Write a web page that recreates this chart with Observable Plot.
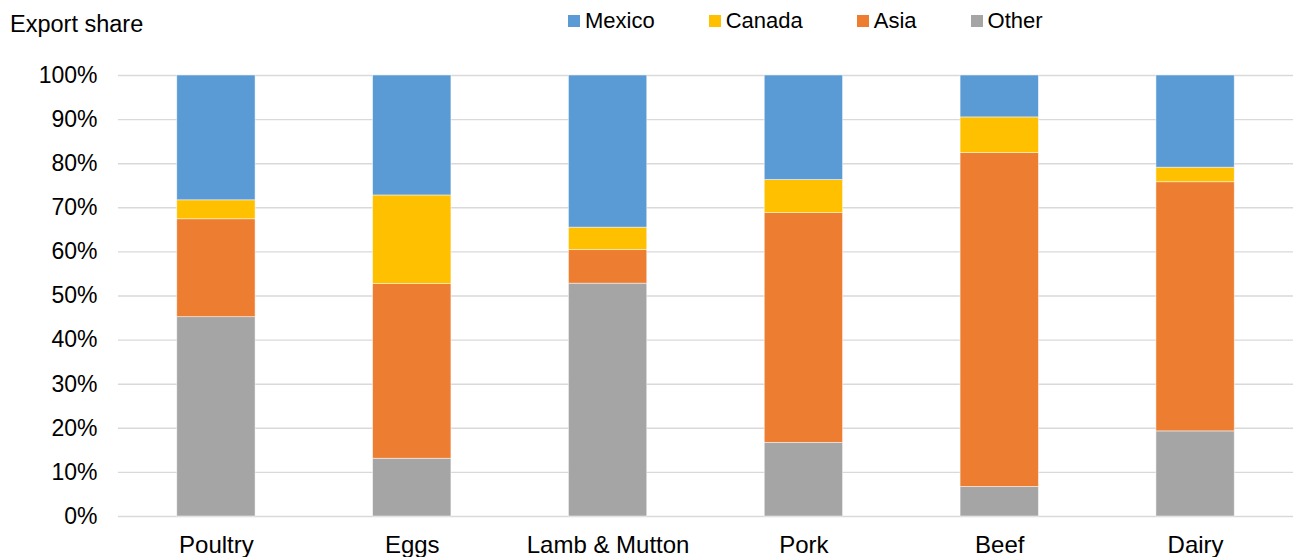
<!DOCTYPE html>
<html>
<head>
<meta charset="utf-8">
<script src="https://cdn.jsdelivr.net/npm/d3@7"></script>
<script src="https://cdn.jsdelivr.net/npm/@observablehq/plot@0.6"></script>
<style>
  html, body { margin: 0; padding: 0; background: #fff; }
  body { width: 1293px; height: 557px; overflow: hidden; font-family: "Liberation Sans", Arial, sans-serif; }
  #header { position: relative; height: 50px; }
  #title { position: absolute; left: 10px; top: 12px; font-size: 23.5px; line-height: 24px; color: #000; }
  #legend { position: absolute; left: 568px; top: 10px; display: flex; gap: 54px; font-size: 22px; line-height: 22px; color: #000; }
  .item { display: flex; align-items: center; gap: 5px; }
  .sw { width: 12px; height: 12px; display: inline-block; }
  #chart svg { display: block; }
</style>
</head>
<body>
<div id="header">
  <div id="title">Export share</div>
  <div id="legend"></div>
</div>
<div id="chart"></div>
<script>
const categories = ["Poultry", "Eggs", "Lamb & Mutton", "Pork", "Beef", "Dairy"];
const seriesNames = ["Other", "Asia", "Canada", "Mexico"]; // stacking order, bottom to top
const legendOrder = ["Mexico", "Canada", "Asia", "Other"];
const colors = {Mexico: "#5B9BD5", Canada: "#FFC000", Asia: "#ED7D31", Other: "#A5A5A5"};
const other  = [45.2, 13.1, 52.8, 16.7,  6.7, 19.3];
const asia   = [22.2, 39.6,  7.6, 52.1, 75.7, 56.5];
const canada = [ 4.3, 20.1,  5.1,  7.5,  8.1,  3.3];
const mexico = [28.3, 27.2, 34.5, 23.7,  9.5, 20.9];
const yTicks = [0, 10, 20, 30, 40, 50, 60, 70, 80, 90, 100];

const seriesValues = {Other: other, Asia: asia, Canada: canada, Mexico: mexico};
const data = [];
for (const s of seriesNames) {
  categories.forEach((c, i) => data.push({category: c, series: s, value: seriesValues[s][i]}));
}

const legend = document.getElementById("legend");
for (const s of legendOrder) {
  const it = document.createElement("div");
  it.className = "item";
  it.innerHTML = `<span class="sw" style="background:${colors[s]}"></span><span>${s}</span>`;
  legend.appendChild(it);
}

const chart = Plot.plot({
  width: 1293,
  height: 507,
  marginTop: 25,
  marginBottom: 41,
  marginLeft: 118,
  marginRight: 0,
  style: {fontFamily: "Liberation Sans, Arial, sans-serif", fontSize: "23px", color: "#000", background: "#fff"},
  x: {domain: categories, paddingInner: 0.6, paddingOuter: 0.3, round: false, label: null},
  y: {domain: [0, 100], label: null},
  color: {domain: seriesNames, range: seriesNames.map(s => colors[s])},
  marks: [
    Plot.ruleY(yTicks, {stroke: "#d9d9d9", strokeWidth: 1.4}),
    Plot.barY(data, {
      x: "category", y: "value", fill: "series",
      order: seriesNames,
      stroke: "white", strokeWidth: 0.8, strokeOpacity: 0.6
    }),
    Plot.axisY({ticks: yTicks, tickSize: 0, tickPadding: 21, tickFormat: d => d + "%", fontSize: 23}),
    Plot.axisX({tickSize: 0, tickPadding: 19, fontSize: 24})
  ]
});
document.getElementById("chart").appendChild(chart);
</script>
</body>
</html>
